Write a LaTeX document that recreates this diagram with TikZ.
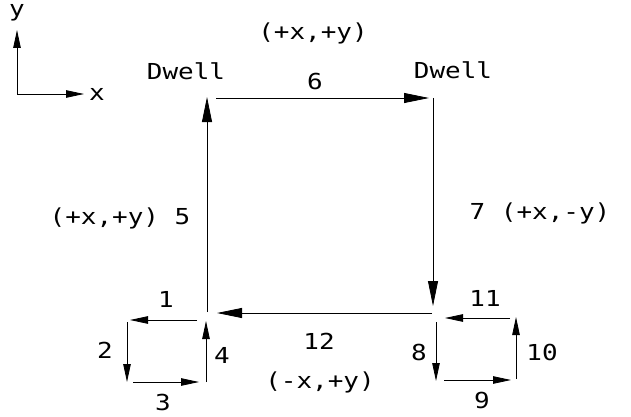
\documentclass[tikz,border=0pt]{standalone}
\usepackage{fontspec}
\setmainfont[FakeStretch=1.18]{DejaVu Sans Mono}
\usetikzlibrary{arrows.meta}
\begin{document}
\begin{tikzpicture}[x=1pt,y=-1pt,
  path/.style={line width=0.8pt,draw=black},
  arr/.style={path,-{Triangle[length=25pt,width=10pt]}},
  sarr/.style={path,-{Triangle[length=18pt,width=7.5pt]}},
  lbl/.style={font=\fontsize{22}{22}\selectfont,inner sep=0pt}]
\useasboundingbox (0,0) rectangle (631,417);
% axes
\coordinate (o) at (17,94);
\coordinate (ytip) at (17,30);
\coordinate (xtip) at (84,94);
\draw[sarr] (o) -- (ytip);
\draw[sarr] (o) -- (xtip);
\node[lbl] (ylab) at (17,13) {y};
\node[lbl] (xlab) at (97,94) {x};
% big loop
\coordinate (p5a) at (207,312);
\coordinate (p5b) at (207,97);
\coordinate (p6a) at (216,98);
\coordinate (p6b) at (429,98);
\coordinate (p7a) at (433,98);
\coordinate (p7b) at (433,306);
\coordinate (p12a) at (432,313);
\coordinate (p12b) at (217,313);
\draw[arr] (p5a) -- (p5b);
\draw[arr] (p6a) -- (p6b);
\draw[arr] (p7a) -- (p7b);
\draw[arr] (p12a) -- (p12b);
% left small loop
\coordinate (p1a) at (197,320);
\coordinate (p1b) at (130,320);
\coordinate (p2a) at (127,322);
\coordinate (p2b) at (127,382);
\coordinate (p3a) at (133,382);
\coordinate (p3b) at (199,382);
\coordinate (p4a) at (206,382);
\coordinate (p4b) at (206,321);
\draw[sarr] (p1a) -- (p1b);
\draw[sarr] (p2a) -- (p2b);
\draw[sarr] (p3a) -- (p3b);
\draw[sarr] (p4a) -- (p4b);
% right small loop
\coordinate (p8a) at (436,322);
\coordinate (p8b) at (436,381);
\coordinate (p9a) at (444,380);
\coordinate (p9b) at (511,380);
\coordinate (p10a) at (516,379);
\coordinate (p10b) at (516,317);
\coordinate (p11a) at (510,318);
\coordinate (p11b) at (445,318);
\draw[sarr] (p8a) -- (p8b);
\draw[sarr] (p9a) -- (p9b);
\draw[sarr] (p10a) -- (p10b);
\draw[sarr] (p11a) -- (p11b);
% labels
\node[lbl] (top) at (313,33) {(+x,+y)};
\node[lbl] (dwl) at (186,71) {Dwell};
\node[lbl] (dwr) at (453,70) {Dwell};
\node[lbl] (l6) at (315,81) {6};
\node[lbl] (l5) at (120,218) {(+x,+y) 5};
\node[lbl] (l7) at (540,213) {7 (+x,-y)};
\node[lbl] (l12) at (319,341) {12};
\node[lbl] (bot) at (320,382) {(-x,+y)};
\node[lbl] (l1) at (166,299) {1};
\node[lbl] (l2) at (105,350) {2};
\node[lbl] (l3) at (163,402) {3};
\node[lbl] (l4) at (222,355) {4};
\node[lbl] (l8) at (419,352) {8};
\node[lbl] (l9) at (482,400) {9};
\node[lbl] (l10) at (542,352) {10};
\node[lbl] (l11) at (485,298) {11};
\end{tikzpicture}
\end{document}
